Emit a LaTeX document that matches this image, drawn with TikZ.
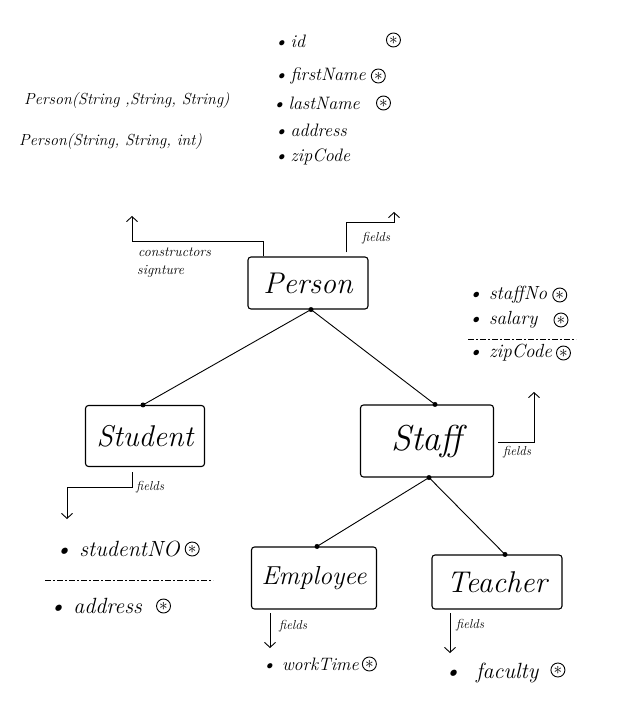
\documentclass[tikz,border=0pt]{standalone}
\usepackage{fontspec}
\usetikzlibrary{arrows.meta}
\begin{document}
\begin{tikzpicture}[x=1pt,y=-1pt,
  cls/.style={draw,line width=1.1pt,rounded corners=3pt,inner sep=0pt,font=\itshape\fontsize{30}{30}\selectfont},
  txt/.style={anchor=west,inner sep=0pt,font=\itshape\fontsize{18}{18}\selectfont},
  lbl/.style={anchor=west,inner sep=0pt,font=\itshape\fontsize{13}{13}\selectfont},
  cstar/.style={circle,draw,line width=0.9pt,minimum size=14pt,inner sep=0pt,anchor=west,font=\fontsize{16}{16}\selectfont},
  link/.style={line width=0.9pt},
  arr/.style={line width=0.9pt,-{Straight Barb[length=5pt,width=11pt]}},
  dot/.style={circle,fill,inner sep=0pt,minimum size=5pt},
  sep/.style={line width=0.7pt,dash pattern=on 6pt off 2pt on 2pt off 2pt},
]
\useasboundingbox[fill=white] (0,0) rectangle (624,711);

% class boxes
\node[cls,minimum width=120pt,minimum height=52pt] (person) at (308,283) {Person};
\node[cls,minimum width=119pt,minimum height=61pt] (student) at (145,436) {Student};
\node[cls,minimum width=133pt,minimum height=72pt,font=\itshape\fontsize{36}{36}\selectfont] (staff) at (427,441) {Staff};
\node[cls,minimum width=125pt,minimum height=62pt,font=\itshape\fontsize{26}{26}\selectfont] (employee) at (314,578) {Employee};
\node[cls,minimum width=130pt,minimum height=54pt] (teacher) at (497,582) {Teacher};

% joint dots
\node[dot] (pd) at ([xshift=3pt]person.south) {};
\node[dot] (sd) at ([xshift=-2pt]student.north) {};
\node[dot] (std) at ([xshift=8pt]staff.north) {};
\node[dot] (sbd) at ([xshift=2pt]staff.south) {};
\node[dot] (ed) at ([xshift=3pt]employee.north) {};
\node[dot] (td) at ([xshift=8pt]teacher.north) {};

% inheritance links
\draw[link] (pd.center) -- (sd.center);
\draw[link] (pd.center) -- (std.center);
\draw[link] (sbd.center) -- (ed.center);
\draw[link] (sbd.center) -- (td.center);

% constructor arrow
\coordinate (ctorstart) at ([xshift=-45pt]person.north);
\coordinate (ctorend) at (132,216);
\draw[arr] (ctorstart) -- ++(0,-15) -| (ctorend);
\node[lbl,font=\itshape\fontsize{14}{14}\selectfont] (ctorlbl1) at (138,252) {constructors};
\node[lbl,font=\itshape\fontsize{14}{14}\selectfont] (ctorlbl2) at (137,271) {signture};

% Person fields arrow
\coordinate (pfstart) at ([xshift=38pt,yshift=4pt]person.north);
\coordinate (pfend) at (394,212);
\draw[arr] (pfstart) -- ++(0,-30) -| (pfend);
\node[lbl] (pflbl) at (362,238) {fields};

% Staff fields arrow
\coordinate (sfstart) at ([xshift=4pt,yshift=-1pt]staff.east);
\coordinate (sfend) at (534,392);
\draw[arr] (sfstart) -| (sfend);
\node[lbl] (sflbl) at (503,452) {fields};

% Student fields arrow
\coordinate (stfstart) at (132,472);
\coordinate (stfend) at (67,519);
\draw[arr] (stfstart) -- ++(0,15) -| (stfend);
\node[lbl] (stflbl) at (136,487) {fields};

% Employee fields arrow
\coordinate (efstart) at (270,613);
\coordinate (efend) at (270,648);
\draw[arr] (efstart) -- (efend);
\node[lbl] (eflbl) at (279,626) {fields};

% Teacher fields arrow
\coordinate (tfstart) at (450,613);
\coordinate (tfend) at (450,653);
\draw[arr] (tfstart) -- (tfend);
\node[lbl] (tflbl) at (456,625) {fields};

% constructor signatures
\node[txt,font=\itshape\fontsize{16}{16}\selectfont] (sig1) at (24,101) {Person(String ,String, String)};
\node[txt,font=\itshape\fontsize{16}{16}\selectfont] (sig2) at (19,142) {Person(String, String, int)};

% Person fields list
\node[txt] (pf1) at (274,41) {\textbullet\,id};
\node[cstar] (ps1) at (386,40) {$\ast$};
\node[txt] (pf2) at (274,76) {\textbullet\,firstName};
\node[cstar] (ps2) at ([xshift=5pt]pf2.east) {$\ast$};
\node[txt] (pf3) at (272,103) {\textbullet\,lastName};
\node[cstar] (ps3) at ([xshift=16pt]pf3.east) {$\ast$};
\node[txt] (pf4) at (274,130) {\textbullet\,address};
\node[txt] (pf5) at (274,157) {\textbullet\,zipCode};

% Staff fields list
\node[txt,font=\itshape\fontsize{19}{19}\selectfont] (sf1) at (468,295) {\textbullet\ staffNo};
\node[cstar] (ss1) at ([xshift=5pt]sf1.east) {$\ast$};
\node[txt,font=\itshape\fontsize{19}{19}\selectfont] (sf2) at (468,320) {\textbullet\ salary};
\node[cstar] (ss2) at ([xshift=16pt]sf2.east) {$\ast$};
\draw[sep] (468,339) -- (576,339);
\node[txt,font=\itshape\fontsize{19}{19}\selectfont] (sf3) at (468,353) {\textbullet\ zipCode};
\node[cstar] (ss3) at ([xshift=4pt]sf3.east) {$\ast$};

% Student fields list
\node[txt,font=\itshape\fontsize{22}{22}\selectfont] (stf1) at (55,549) {\textbullet\ studentNO};
\node[cstar] (sts1) at ([xshift=5pt]stf1.east) {$\ast$};
\draw[sep] (45,580) -- (213,580);
\node[txt,font=\itshape\fontsize{22}{22}\selectfont] (stf2) at (49,606) {\textbullet\ address};
\node[cstar] (sts2) at ([xshift=14pt]stf2.east) {$\ast$};

% Employee / Teacher fields
\node[txt] (ef1) at (262,664) {\textbullet\ workTime};
\node[cstar] (es1) at ([xshift=3pt]ef1.east) {$\ast$};
\node[txt,font=\itshape\fontsize{22}{22}\selectfont] (tf1) at (444,673) {\textbullet\ \ faculty};
\node[cstar] (ts1) at ([xshift=12pt,yshift=3pt]tf1.east) {$\ast$};
\end{tikzpicture}
\end{document}
